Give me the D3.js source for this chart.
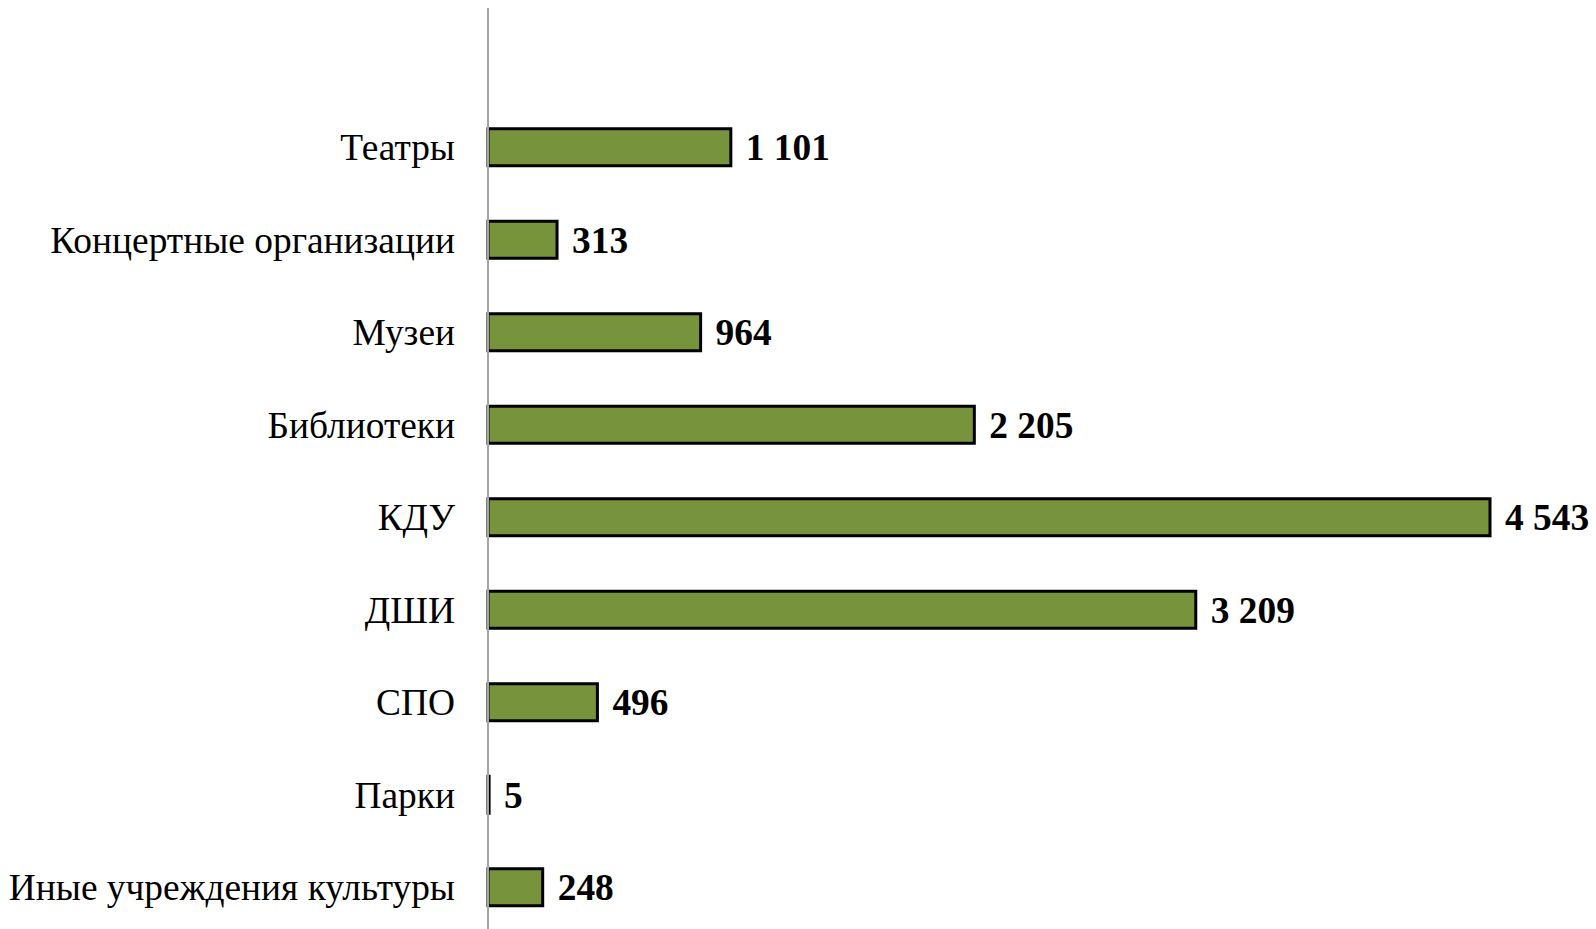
<!DOCTYPE html>
<html>
<head>
<meta charset="utf-8">
<script src="https://cdn.jsdelivr.net/npm/d3@7"></script>
<style>
  html, body { margin: 0; padding: 0; background: #fff; }
  svg { display: block; }
  .cat { font-family: "Liberation Serif", "Times New Roman", serif; font-size: 37.4px; fill: #000; }
  .val { font-family: "Liberation Serif", "Times New Roman", serif; font-size: 37.4px; font-weight: bold; fill: #000; }
</style>
</head>
<body>
<script>
// Учреждения культуры -- horizontal bar chart

var categories = [
  "Театры",
  "Концертные организации",
  "Музеи",
  "Библиотеки",
  "КДУ",
  "ДШИ",
  "СПО",
  "Парки",
  "Иные учреждения культуры"
];
var values = [1101, 313, 964, 2205, 4543, 3209, 496, 5, 248];

var width = 1596, height = 929;
var axisX = 488;

var svg = d3.select("body").append("svg")
  .attr("width", width)
  .attr("height", height);

var x = d3.scaleLinear()
  .domain([0, d3.max(values)])
  .range([axisX, 1490]);

var y = d3.scaleBand()
  .domain(categories)
  .range([101, 933.5])
  .paddingInner(0.6)
  .paddingOuter(0.3);

var fmt = d3.formatLocale({ decimal: ",", thousands: " ", grouping: [3], currency: ["", ""] }).format(",d");

var rows = categories.map(function (c, i) { return { cat: c, val: values[i] }; });

// bars
svg.append("g").selectAll("rect")
  .data(rows)
  .enter().append("rect")
  .attr("x", x(0))
  .attr("y", function (d) { return y(d.cat); })
  .attr("width", function (d) { return x(d.val) - x(0); })
  .attr("height", y.bandwidth())
  .attr("fill", "#77933c")
  .attr("stroke", "#000")
  .attr("stroke-width", 3);

// vertical axis line (drawn over bars, grey)
svg.append("line")
  .attr("x1", axisX).attr("x2", axisX)
  .attr("y1", 8).attr("y2", height)
  .attr("stroke", "#a6a6a6")
  .attr("stroke-width", 2);

// category labels
svg.append("g").selectAll("text")
  .data(rows)
  .enter().append("text")
  .attr("class", "cat")
  .attr("x", axisX - 33)
  .attr("y", function (d) { return y(d.cat) + y.bandwidth() / 2; })
  .attr("dy", "0.35em")
  .attr("text-anchor", "end")
  .text(function (d) { return d.cat; });

// value labels
svg.append("g").selectAll("text")
  .data(rows)
  .enter().append("text")
  .attr("class", "val")
  .attr("x", function (d) { return x(d.val) + 15; })
  .attr("y", function (d) { return y(d.cat) + y.bandwidth() / 2; })
  .attr("dy", "0.35em")
  .text(function (d) { return fmt(d.val); });
</script>
</body>
</html>
